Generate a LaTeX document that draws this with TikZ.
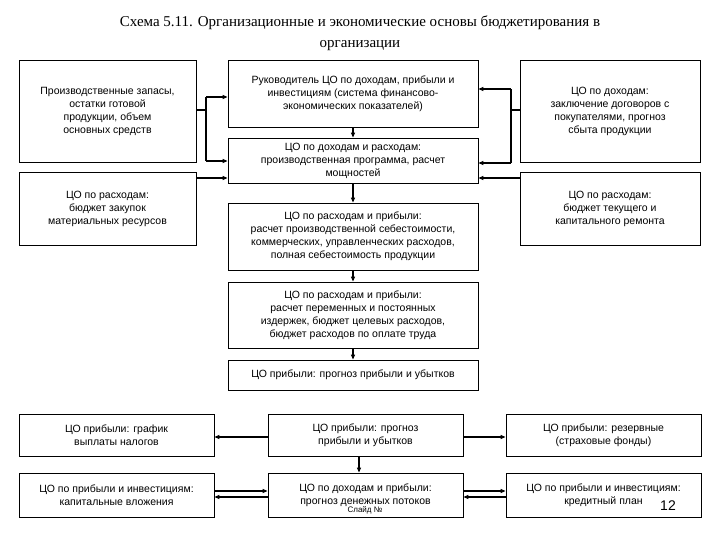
\documentclass[tikz,border=0pt]{standalone}
\usepackage{fontspec}
\setmainfont{Liberation Sans}
\newfontfamily\titlefont{Liberation Serif}
\usetikzlibrary{arrows.meta}
\begin{document}
\begin{tikzpicture}[x=1pt,y=-1pt,
  box/.style={draw,line width=0.8pt,inner sep=0pt,font=\fontsize{10.5}{13}\selectfont,align=center},
  arr/.style={line width=1.5pt,-{Triangle[length=5pt,width=4pt]}},
  ln/.style={line width=1.5pt}]
\useasboundingbox[fill=white] (0,0) rectangle (720,540);
\node[font=\titlefont\fontsize{15}{21}\selectfont,align=center] (title) at (360,33) {Схема 5.11. Организационные и экономические основы бюджетирования в\\организации};
\newcommand\bx[6]{\node[box,minimum width=#4-#2,minimum height=#5-#3] (#1) at ({(#2+#4)/2},{(#3+#5)/2}) {#6};}
\bx{L1}{19}{60}{196}{162}{Производственные запасы,\\остатки готовой\\продукции, объем\\основных средств}
\bx{C1}{228}{60}{478}{127}{Руководитель ЦО по доходам, прибыли и\\инвестициям (система финансово-\\экономических показателей)}
\bx{R1}{520}{60}{700}{162}{ЦО по доходам:\\заключение договоров с\\покупателями, прогноз\\сбыта продукции}
\bx{C2}{228}{138}{478}{183}{ЦО по доходам и расходам:\\производственная программа, расчет\\мощностей}
\bx{L2}{19}{172}{196}{245}{ЦО по расходам:\\бюджет закупок\\материальных ресурсов}
\bx{R2}{520}{172}{700}{245}{ЦО по расходам:\\бюджет текущего и\\капитального ремонта}
\bx{C3}{228}{203}{478}{270}{ЦО по расходам и прибыли:\\расчет производственной себестоимости,\\коммерческих, управленческих расходов,\\полная себестоимость продукции}
\bx{C4}{228}{282}{478}{348}{ЦО по расходам и прибыли:\\расчет переменных и постоянных\\издержек, бюджет целевых расходов,\\бюджет расходов по оплате труда}
\bx{C5}{228}{360}{478}{390}{ЦО прибыли: прогноз прибыли и убытков}
\bx{BL1}{19}{414}{214}{456}{ЦО прибыли: график\\выплаты налогов}
\bx{BM1}{268}{414}{463}{456}{ЦО прибыли: прогноз\\прибыли и убытков}
\bx{BR1}{506}{414}{701}{456}{ЦО прибыли: резервные\\(страховые фонды)}
\bx{BL2}{19}{473}{214}{517}{ЦО по прибыли и инвестициям:\\капитальные вложения}
\bx{BM2}{268}{473}{463}{517}{ЦО по доходам и прибыли:\\прогноз денежных потоков}
\bx{BR2}{506}{473}{701}{517}{ЦО по прибыли и инвестициям:\\кредитный план\hspace{40pt}}
% left group
\coordinate (lj) at (206,110);
\draw[ln] (L1.east |- lj) -- (lj);
\draw[arr] (206,97) -- (C1.west |- 0,97);
\draw[ln] (206,97) -- (206,161);
\draw[arr] (206,161) -- (C2.west |- 0,161);
\draw[arr] (L2.east |- 0,178) -- (C2.west |- 0,178);
% right group
\draw[ln] (R1.west |- 0,110) -- (511,110);
\draw[ln] (511,89) -- (511,163);
\draw[arr] (511,89) -- (C1.east |- 0,89);
\draw[arr] (511,163) -- (C2.east |- 0,163);
\draw[arr] (R2.west |- 0,178) -- (C2.east |- 0,178);
% vertical chain
\draw[arr] (C1.south -| 353,0) -- (C2.north -| 353,0);
\draw[arr] (C2.south -| 353,0) -- (C3.north -| 353,0);
\draw[arr] (C3.south -| 353,0) -- (C4.north -| 353,0);
\draw[arr] (C4.south -| 353,0) -- (C5.north -| 353,0);
% bottom
\draw[arr] (BM1.west |- 0,437) -- (BL1.east |- 0,437);
\draw[arr] (BM1.east |- 0,437) -- (BR1.west |- 0,437);
\draw[arr] (BM1.south -| 359,0) -- (BM2.north -| 359,0);
\draw[arr] (BL2.east |- 0,491) -- (BM2.west |- 0,491);
\draw[arr] (BM2.west |- 0,497) -- (BL2.east |- 0,497);
\draw[arr] (BM2.east |- 0,491) -- (BR2.west |- 0,491);
\draw[arr] (BR2.west |- 0,497) -- (BM2.east |- 0,497);
\node[font=\fontsize{8}{10}\selectfont] (sl) at (365,510) {Слайд №};
\node[font=\fontsize{14}{16}\selectfont] (num) at (668,506) {12};
\end{tikzpicture}
\end{document}
